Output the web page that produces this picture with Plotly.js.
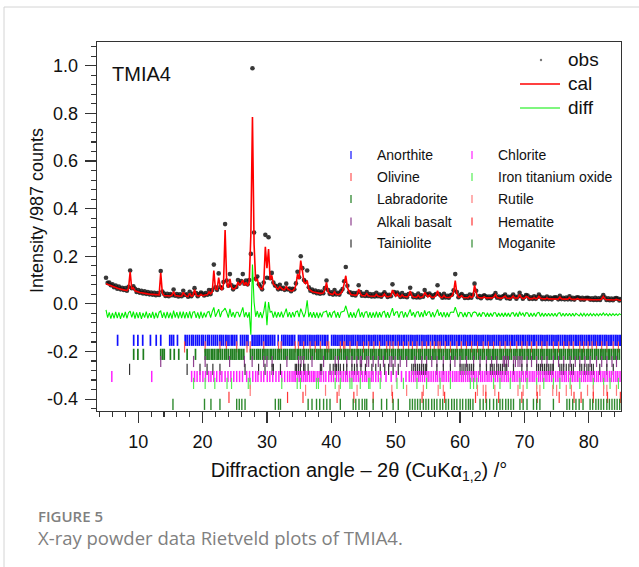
<!DOCTYPE html>
<html><head><meta charset="utf-8">
<script src="https://cdn.plot.ly/plotly-3.0.1.min.js"></script>
<style>html,body{margin:0;padding:0;background:#fff}#chart{width:639px;height:567px}</style>
</head><body><div id="chart"></div>
<script>
// ---- profile data: 2-theta grid start/step (deg) ----
const twoThetaStart = 5.0;
const twoThetaStep = 0.25;

const cal = [
/*5*/ .085,.082,.079,.076, .073,.071,.068,.066,
/*7*/ .064,.062,.060,.059, .057,.056,.065,.135,
/*9*/ .062,.068,.055,.052, .050,.048,.047,.045,
/*11*/ .044,.043,.042,.041, .040,.039,.038,.037,
/*13*/ .037,.038,.130,.045, .035,.034,.034,.033,
/*15*/ .033,.037,.052,.035, .033,.032,.032,.033,
/*17*/ .048,.038,.032,.031, .044,.033,.034,.060,
/*19*/ .038,.033,.033,.040, .035,.036,.037,.039,
/*21*/ .050,.042,.050,.140, .062,.060,.110,.072,
/*23*/ .058,.082,.310,.090, .068,.105,.070,.062,
/*25*/ .064,.072,.092,.078, .088,.100,.078,.090,
/*27*/ .075,.092,.290,.785, .250,.095,.105,.075,
/*29*/ .065,.062,.082,.240, .150,.230,.100,.120,
/*31*/ .082,.078,.066,.062, .072,.064,.060,.060,
/*33*/ .074,.062,.056,.054, .055,.062,.078,.125,
/*35*/ .105,.182,.140,.092, .085,.098,.062,.056,
/*37*/ .052,.050,.048,.046, .045,.044,.044,.046,
/*39*/ .058,.090,.050,.043, .041,.040,.050,.041,
/*41*/ .039,.040,.045,.056, .085,.118,.068,.050,
/*43*/ .040,.038,.037,.036, .039,.062,.043,.035,
/*45*/ .034,.034,.043,.034, .033,.032,.032,.032,
/*47*/ .040,.033,.031,.031, .032,.042,.032,.030,
/*49*/ .030,.033,.058,.044, .032,.042,.032,.030,
/*51*/ .038,.031,.029,.029, .034,.054,.035,.029,
/*53*/ .028,.028,.036,.028, .028,.031,.048,.036,
/*55*/ .029,.037,.029,.028, .029,.035,.055,.035,
/*57*/ .028,.027,.035,.028, .027,.027,.029,.033,
/*59*/ .050,.098,.044,.029, .029,.035,.027,.026,
/*61*/ .026,.026,.033,.027, .031,.078,.048,.029,
/*63*/ .026,.025,.025,.030, .025,.025,.024,.025,
/*65*/ .025,.029,.039,.027, .024,.024,.024,.027,
/*67*/ .033,.025,.023,.023, .025,.033,.024,.023,
/*69*/ .025,.039,.027,.023, .023,.031,.029,.022,
/*71*/ .022,.022,.026,.022, .023,.032,.024,.021,
/*73*/ .021,.021,.025,.021, .021,.020,.020,.023,
/*75*/ .021,.020,.028,.021, .020,.020,.021,.020,
/*77*/ .026,.020,.019,.019, .019,.023,.019,.019,
/*79*/ .019,.018,.018,.021, .018,.018,.017,.017,
/*81*/ .019,.017,.017,.017, .021,.031,.021,.017,
/*83*/ .017,.016,.016,.016, .016,.019,.016,.015,
/*85*/ .015
];

const obs = [
/*5*/ .110,.088,.090,.078, .082,.070,.077,.064,
/*7*/ .073,.061,.068,.058, .066,.055,.072,.140,
/*9*/ .066,.074,.063,.050, .058,.047,.055,.044,
/*11*/ .053,.042,.050,.040, .048,.038,.047,.036,
/*13*/ .045,.037,.138,.052, .043,.033,.042,.032,
/*15*/ .041,.036,.060,.034, .041,.031,.040,.032,
/*17*/ .055,.037,.040,.030, .051,.032,.042,.066,
/*19*/ .045,.032,.041,.048, .043,.035,.045,.038,
/*21*/ .058,.041,.058,.165, .070,.059,.128,.071,
/*23*/ .066,.092,.335,.098, .076,.125,.078,.061,
/*25*/ .072,.071,.100,.086, .096,.125,.085,.098,
/*27*/ .082,.100,.210,.990, .300,.105,.115,.082,
/*29*/ .073,.061,.090,.290, .110,.280,.108,.130,
/*31*/ .090,.077,.074,.061, .080,.063,.068,.059,
/*33*/ .085,.061,.064,.053, .063,.061,.086,.135,
/*35*/ .112,.200,.150,.100, .093,.140,.070,.055,
/*37*/ .060,.049,.056,.045, .053,.043,.052,.045,
/*39*/ .066,.098,.058,.042, .049,.039,.058,.040,
/*41*/ .047,.039,.053,.062, .095,.155,.076,.049,
/*43*/ .048,.037,.045,.035, .047,.078,.050,.034,
/*45*/ .042,.033,.050,.033, .041,.031,.040,.031,
/*47*/ .047,.032,.039,.030, .040,.049,.039,.029,
/*49*/ .038,.032,.082,.050, .040,.048,.039,.029,
/*51*/ .045,.030,.037,.028, .041,.068,.042,.028,
/*53*/ .036,.027,.043,.027, .036,.030,.058,.042,
/*55*/ .037,.043,.036,.027, .037,.041,.078,.041,
/*57*/ .035,.026,.042,.027, .034,.026,.036,.039,
/*59*/ .057,.125,.050,.028, .036,.041,.034,.025,
/*61*/ .033,.025,.039,.026, .038,.085,.055,.028,
/*63*/ .033,.024,.032,.036, .032,.024,.031,.024,
/*65*/ .032,.035,.045,.026, .031,.023,.030,.033,
/*67*/ .039,.024,.030,.022, .031,.039,.030,.022,
/*69*/ .031,.047,.033,.022, .029,.037,.035,.021,
/*71*/ .028,.021,.032,.021, .029,.039,.030,.020,
/*73*/ .027,.020,.031,.020, .027,.019,.026,.028,
/*75*/ .027,.019,.034,.020, .026,.019,.027,.019,
/*77*/ .032,.019,.025,.018, .025,.028,.025,.018,
/*79*/ .025,.017,.024,.026, .024,.017,.023,.016,
/*81*/ .025,.016,.023,.016, .027,.037,.027,.016,
/*83*/ .023,.015,.022,.015, .022,.024,.022,.014,
/*85*/ .020
];

const diff = [
/*5*/ -.025,-.058,-.036,-.062, -.038,-.061,-.034,-.060,
/*7*/ -.036,-.063,-.038,-.058, -.034,-.061,-.037,-.030,
/*9*/ -.057,-.033,-.062,-.036, -.060,-.035,-.063,-.038,
/*11*/ -.058,-.033,-.061,-.039, -.059,-.034,-.062,-.037,
/*13*/ -.060,-.035,-.030,-.059, -.036,-.061,-.034,-.060,
/*15*/ -.037,-.062,-.028,-.058, -.035,-.061,-.033,-.060,
/*17*/ -.033,-.061,-.035,-.060, -.032,-.061,-.035,-.033,
/*19*/ -.059,-.036,-.062,-.033, -.060,-.037,-.057,-.035,
/*21*/ -.032,-.058,-.033,-.015, -.054,-.035,-.022,-.056,
/*23*/ -.033,-.027,-.018,-.035, -.058,-.021,-.054,-.035,
/*25*/ -.058,-.035,-.035,-.056, -.035,-.015,-.056,-.035,
/*27*/ -.058,-.035,-.130,.165, .008,-.054,-.030,-.058,
/*29*/ -.035,-.060,-.033,.010, -.090,.008,-.035,-.031,
/*31*/ -.058,-.033,-.058,-.035, -.056,-.033,-.058,-.035,
/*33*/ -.020,-.056,-.035,-.058, -.035,-.056,-.033,-.030,
/*35*/ -.056,-.020,-.035,-.056, -.035,.015,-.056,-.035,
/*37*/ -.058,-.035,-.059,-.036, -.060,-.037,-.056,-.035,
/*39*/ -.033,-.030,-.057,-.035, -.058,-.036,-.031,-.058,
/*41*/ -.035,-.059,-.035,-.033, -.030,-.008,-.035,-.058,
/*43*/ -.035,-.058,-.036,-.059, -.035,-.020,-.056,-.035,
/*45*/ -.058,-.035,-.033,-.058, -.035,-.059,-.036,-.058,
/*47*/ -.033,-.058,-.035,-.057, -.035,-.031,-.058,-.035,
/*49*/ -.059,-.035,-.018,-.050, -.035,-.033,-.058,-.035,
/*51*/ -.033,-.058,-.035,-.056, -.035,-.023,-.050,-.035,
/*53*/ -.057,-.035,-.033,-.056, -.035,-.056,-.027,-.050,
/*55*/ -.035,-.033,-.056,-.035, -.056,-.035,-.023,-.050,
/*57*/ -.035,-.056,-.035,-.057, -.036,-.055,-.036,-.034,
/*59*/ -.036,-.014,-.036,-.055, -.036,-.037,-.055,-.036,
/*61*/ -.055,-.036,-.037,-.055, -.037,-.034,-.037,-.053,
/*63*/ -.037,-.054,-.037,-.038, -.054,-.037,-.054,-.038,
/*65*/ -.053,-.037,-.037,-.054, -.038,-.053,-.038,-.054,
/*67*/ -.037,-.053,-.038,-.054, -.038,-.037,-.053,-.037,
/*69*/ -.054,-.033,-.049,-.037, -.053,-.037,-.038,-.054,
/*71*/ -.038,-.053,-.038,-.053, -.038,-.036,-.053,-.038,
/*73*/ -.053,-.039,-.052,-.039, -.052,-.039,-.052,-.039,
/*75*/ -.053,-.039,-.037,-.052, -.039,-.052,-.039,-.051,
/*77*/ -.039,-.052,-.040,-.052, -.040,-.044,-.051,-.040,
/*79*/ -.051,-.040,-.051,-.041, -.050,-.040,-.050,-.041,
/*81*/ -.050,-.041,-.050,-.041, -.048,-.038,-.048,-.041,
/*83*/ -.050,-.041,-.049,-.041, -.049,-.042,-.049,-.041,
/*85*/ -.046
];

// ---- reflection positions (2-theta, deg) per phase ----
const anorthite = [6.8,9.3,9.95,10.7,11.9,12.8,13.5,14.9,15.2,15.5,16.1,17.3,17.6,17.95,18.3,18.55,18.9,19.2,19.5,19.85,20.1,20.45,20.8,21.05,21.4,21.7,22.0,22.3,22.65,22.9,23.2,23.55,23.8,24.1,24.45,24.7,25.0,25.3,25.9,26.2,26.5,26.8,27.05,27.7,28.0,28.3,28.6,28.85,29.15,29.45,29.75,30.0,30.3,30.6,30.9,31.2,31.75,32.3,32.6,32.85,33.15,33.45,33.75,34.0,34.3,34.9,35.15,35.45,35.75,36.0,36.3,36.6,36.85,37.15,37.45,37.75,38.0,38.3,38.6,38.9,39.15,39.45,40.05,40.35,40.6,40.9,41.2,41.5,41.75,42.05,42.35,42.6,42.9,43.2,43.45,43.75,44.05,44.3,44.6,44.9,45.15,45.45,45.75,46.0,46.3,46.6,46.85,47.15,47.45,47.7,48.0,48.3,48.6,48.85,49.15,49.45,49.7,50.0,50.3,50.55,50.85,51.15,51.4,51.7,52.0,52.3,52.55,52.85,53.15,53.4,53.7,54.0,54.25,54.55,54.85,55.1,55.4,55.7,56.0,56.25,56.55,56.85,57.1,57.4,57.7,57.95,58.25,58.55,58.8,59.1,59.4,59.7,59.95,60.25,60.55,60.8,61.1,61.4,61.65,61.95,62.25,62.5,62.8,63.1,63.4,63.65,63.95,64.25,64.5,64.8,65.1,65.35,65.65,65.95,66.2,66.5,66.8,67.1,67.35,67.65,67.95,68.2,68.5,68.8,69.05,69.35,69.65,69.9,70.2,70.5,70.75,71.05,71.35,71.6,71.9,72.2,72.5,72.75,73.05,73.35,73.6,73.9,74.2,74.45,74.75,75.05,75.3,75.6,75.9,76.2,76.45,76.75,77.05,77.3,77.6,77.9,78.15,78.45,78.75,79.0,79.3,79.6,79.9,80.15,80.45,80.75,81.0,81.3,81.6,81.85,82.15,82.45,82.7,83.0,83.3,83.55,83.85,84.15,84.4,84.7,84.95];
const olivine = [17.2,20.4,22.7,23.7,25.3,26.9,27.4,29.5,31.8,32.2,34.4,34.9,35.7,36.7,37.5,38.3,39.3,39.6,41.4,41.9,42.1,42.9,44.0,45.0,45.8,46.6,47.5,48.6,49.1,49.6,50.4,51.2,52.0,52.6,53.3,54.1,54.8,55.4,56.0,56.6,56.9,57.7,58.5,59.5,60.2,61.0,61.8,62.7,63.6,64.4,65.2,66.2,67.0,67.8,68.8,69.6,70.4,71.1,71.9,72.7,73.5,74.5,75.3,76.1,76.9,77.6,78.6,79.2,79.9,80.5,81.2,82.0,82.8,83.8,84.6];
const labradorite = [9.3,9.95,10.8,13.5,13.8,14.05,15.0,15.6,16.3,17.6,18.9,20.4,20.7,21.0,21.35,21.6,21.9,22.25,22.5,22.8,23.1,23.45,23.7,24.0,24.35,24.6,24.9,25.2,25.55,25.8,26.1,26.4,27.45,27.75,28.05,28.4,28.65,28.95,29.3,29.55,29.85,30.15,30.5,30.75,31.05,31.35,31.7,31.95,32.25,32.6,32.85,33.15,33.5,33.75,34.05,34.35,34.7,34.95,35.25,35.6,35.85,36.15,36.45,36.8,37.05,37.35,37.7,37.95,38.25,38.55,38.9,39.15,39.45,39.8,40.05,40.35,40.65,41.0,41.25,41.55,41.9,42.15,42.45,42.75,43.1,43.35,43.65,44.0,44.25,44.55,44.85,45.2,45.45,45.75,46.1,46.35,46.65,46.95,47.3,47.55,47.85,48.2,48.45,48.75,49.05,49.4,49.65,49.95,50.3,50.55,50.85,51.15,51.5,51.75,52.05,52.4,52.65,52.95,53.25,53.6,53.85,54.15,54.5,54.75,55.05,55.35,55.7,55.95,56.25,56.6,56.85,57.15,57.45,57.8,58.05,58.35,58.7,58.95,59.25,59.55,59.9,60.15,60.45,60.8,61.05,61.35,61.65,62.0,62.25,62.55,62.9,63.15,63.45,63.75,64.1,64.35,64.65,65.0,65.25,65.55,65.85,66.2,66.45,66.75,67.1,67.35,67.65,67.95,68.3,68.55,68.85,69.2,69.45,69.75,70.05,70.4,70.65,70.95,71.3,71.55,71.85,72.15,72.5,72.75,73.05,73.4,73.65,73.95,74.25,74.6,74.85,75.15,75.5,75.75,76.05,76.35,76.7,76.95,77.25,77.6,77.85,78.15,78.45,78.8,79.05,79.35,79.7,79.95,80.25,80.55,80.9,81.15,81.45,81.8,82.05,82.35,82.65,83.0,83.25,83.55,83.9,84.15,84.45,84.75];
const alkaliBasalt = [13.5,18.6,20.4,24.2,26.5,27.7,29.5,30.0,30.8,33.1,34.9,35.3,35.7,37.0,38.8,40.6,41.1,42.4,43.2,43.96,44.5,44.7,45.5,45.8,46.5,47.3,48.1,49.1,49.4,49.9,50.7,51.7,53.0,54.05,54.8,55.6,56.4,57.4,58.5,59.2,60.0,61.0,62.1,63.1,64.1,64.9,65.7,66.7,66.9,67.2,67.5,68.3,68.6,69.0,69.3,69.6,70.4,71.1,71.9,72.7,73.5,74.5,75.3,76.1,77.1,77.9,78.6,79.4,80.2,81.2,82.0,82.8,83.6,84.3];
const tainiolite = [8.66,17.6,19.6,20.7,21.6,22.7,26.6,28.7,29.7,30.8,31.0,32.1,34.4,34.6,34.9,35.2,35.7,35.9,36.4,38.3,38.5,39.8,40.3,40.6,40.8,41.1,41.4,41.9,42.4,43.2,43.6,44.0,44.6,45.3,46.3,46.9,47.6,48.3,48.9,49.6,50.4,52.5,52.8,53.1,53.4,53.7,54.0,54.3,54.6,54.8,56.4,57.4,58.5,60.0,60.3,60.6,60.9,61.2,61.5,61.8,62.1,63.1,64.1,64.7,65.0,65.3,65.7,66.0,66.3,66.6,67.0,67.25,68.3,69.6,70.4,71.9,72.2,72.5,72.8,73.1,73.4,73.7,74.0,74.3,74.5,75.5,75.8,76.1,76.5,76.9,77.3,77.6,78.6,78.9,79.3,79.7,80.0,80.4,80.7,81.7,82.8,83.8];
const chlorite = [5.9,12.1,18.3,18.75,19.15,19.6,20.05,20.45,20.95,21.3,21.75,22.2,22.65,23.0,23.5,23.95,24.4,24.85,25.3,25.75,26.2,26.85,27.3,27.8,28.25,28.6,29.1,29.5,30.05,30.45,30.9,31.4,31.85,32.3,32.75,33.2,33.55,33.9,34.2,34.45,34.8,35.1,35.4,35.7,36.0,36.25,36.6,36.9,37.2,37.45,37.8,38.1,38.4,38.8,39.15,39.6,40.0,40.35,40.8,41.15,41.5,41.85,42.2,42.5,42.85,43.2,43.5,43.85,44.2,44.5,44.85,45.2,45.5,45.85,46.2,46.5,46.9,47.3,47.7,48.5,49.3,50.1,50.9,51.6,52.1,52.45,52.8,53.15,53.5,53.8,54.15,54.5,54.85,55.15,55.5,55.85,56.2,56.5,56.85,57.2,57.5,57.85,58.2,58.5,58.85,59.2,59.5,59.85,60.2,60.5,60.85,61.2,61.5,61.85,62.2,62.5,62.85,63.2,63.5,63.85,64.2,64.5,64.85,65.2,65.5,65.85,66.2,66.5,66.85,67.2,67.5,67.85,68.2,68.5,68.85,69.2,69.5,69.85,70.2,70.5,70.85,71.2,71.5,71.85,72.2,72.5,72.85,73.2,73.5,73.85,74.2,74.5,74.85,75.2,75.5,75.85,76.2,76.5,76.85,77.2,77.5,77.85,78.2,78.5,78.85,79.2,79.5,79.85,80.2,80.5,80.85,81.2,81.5,81.85,82.2,82.5,82.85,83.2,83.5,83.85,84.2,84.5,84.85];
const ironTitaniumOxide = [18.6,20.4,21.9,23.8,24.5,27.1,27.4,32.3,34.7,35.2,37.7,38.0,40.6,41.4,42.9,43.2,44.5,45.8,46.0,47.6,50.2,51.2,53.3,54.8,56.9,58.5,61.6,62.1,62.6,65.2,66.2,67.8,69.3,70.4,71.9,73.0,74.5,75.5,77.1,78.6,80.7,82.3,83.3,84.6];
const rutile = [27.4,36.0,39.1,41.2,44.0,49.4,51.7,54.3,56.6,57.4,62.7,63.6,64.0,65.4,69.0,69.8,71.9,72.4,74.4,75.0,76.5,77.3,79.8,80.7,82.3,82.8,84.3];
const hematite = [24.1,33.2,35.6,40.9,43.5,46.5,49.5,54.1,57.6,62.4,64.0,66.0,69.6,72.0,75.4,77.7,78.8,80.7,82.9,84.9];
const moganite = [15.4,20.3,21.3,22.7,25.3,25.7,26.1,26.6,31.3,31.8,32.1,36.4,37.0,37.7,38.2,38.8,39.3,39.8,41.4,43.4,43.8,44.3,44.8,45.2,45.5,46.5,47.8,48.6,49.6,50.4,52.2,52.6,53.0,53.4,53.8,54.3,54.7,55.1,55.6,56.0,56.4,56.9,57.3,57.8,58.2,58.7,59.1,59.5,60.0,60.4,60.9,61.3,61.6,62.0,63.1,63.6,64.1,64.6,65.2,65.7,66.2,66.6,67.1,67.5,67.9,68.3,69.3,69.8,70.4,71.4,71.9,72.4,74.5,76.6,77.0,77.5,78.0,78.5,79.1,80.2,80.6,81.1,81.5,81.9,82.3,82.8,83.2,83.6,84.0,84.4,84.8];

const phaseNames = ['Anorthite','Olivine','Labradorite','Alkali basalt','Tainiolite','Chlorite','Iron titanium oxide','Rutile','Hematite','Moganite'];
const phaseTicks = [anorthite, olivine, labradorite, alkaliBasalt, tainiolite, chlorite, ironTitaniumOxide, rutile, hematite, moganite];

const xTickVals = [10,20,30,40,50,60,70,80];
const yTickVals = [-0.4,-0.2,0,0.2,0.4,0.6,0.8,1.0];
const yTickText = ['-0.4','-0.2','0.0','0.2','0.4','0.6','0.8','1.0'];

// ---- styles ----
const phaseColors = ['#1010ff','#ff5555','#1e7d1e','#8e3f8e','#333333','#ff22ff','#55ee55','#ff7b7b','#ff3535','#2f8a2f'];
const phaseWidths = [1.7,1.2,1.7,1.2,1.2,1.5,1.2,1.2,1.2,1.4];
const rowY = [-0.153,-0.181,-0.212,-0.242,-0.275,-0.305,-0.334,-0.363,-0.393,-0.422];

const twoTheta = obs.map((_, i) => +(twoThetaStart + i * twoThetaStep).toFixed(2));
const FONT = 'Liberation Sans, Arial, sans-serif';

const traces = [
  {x: twoTheta, y: obs, type: 'scatter', mode: 'markers', name: 'obs',
   marker: {size: 4.6, color: '#151515', opacity: 0.85}, hoverinfo: 'skip'},
  {x: twoTheta, y: cal, type: 'scatter', mode: 'lines', name: 'cal',
   line: {color: '#ff0000', width: 1.6}, hoverinfo: 'skip'},
  {x: twoTheta, y: diff, type: 'scatter', mode: 'lines', name: 'diff',
   line: {color: '#00ee00', width: 1.1}, hoverinfo: 'skip'}
];
phaseTicks.forEach((pos, k) => {
  traces.push({
    x: pos, y: pos.map(() => rowY[k]), type: 'scatter', mode: 'markers', name: phaseNames[k],
    marker: {symbol: 'line-ns', size: 8, color: phaseColors[k],
             line: {color: phaseColors[k], width: phaseWidths[k]}},
    hoverinfo: 'skip'
  });
});

// plot area: l=97, t=42, w=524, h=369
const PX = px => (px - 97) / 524;
const PY = py => (411 - py) / 369;

const annotations = [
  {text: 'Intensity /987 counts', textangle: -90, x: PX(37), y: PY(211), xref: 'paper', yref: 'paper', xanchor: 'center', yanchor: 'middle', showarrow: false, font: {family: FONT, size: 18, color: '#111'}},
  {text: 'TMIA4', x: PX(110), y: PY(74), xref: 'paper', yref: 'paper', xanchor: 'left', yanchor: 'middle', showarrow: false, font: {family: FONT, size: 20, color: '#111'}},
  {text: 'obs', x: PX(566), y: PY(59), xref: 'paper', yref: 'paper', xanchor: 'left', yanchor: 'middle', showarrow: false, font: {family: FONT, size: 19, color: '#111'}},
  {text: 'cal', x: PX(566), y: PY(84), xref: 'paper', yref: 'paper', xanchor: 'left', yanchor: 'middle', showarrow: false, font: {family: FONT, size: 19, color: '#111'}},
  {text: 'diff', x: PX(566), y: PY(108), xref: 'paper', yref: 'paper', xanchor: 'left', yanchor: 'middle', showarrow: false, font: {family: FONT, size: 19, color: '#111'}},
  {text: 'FIGURE 5', x: PX(36), y: PY(516), xref: 'paper', yref: 'paper', xanchor: 'left', yanchor: 'middle', showarrow: false, font: {family: 'Open Sans, sans-serif', size: 15, color: '#808080', weight: 600}},
  {text: 'X-ray powder data Rietveld plots of TMIA4.', x: PX(36), y: PY(537), xref: 'paper', yref: 'paper', xanchor: 'left', yanchor: 'middle', showarrow: false, font: {family: 'Open Sans, sans-serif', size: 18.5, color: '#808080'}}
];
const shapes = [
  {type: 'line', xref: 'paper', yref: 'paper', x0: PX(4), x1: PX(4), y0: PY(7), y1: PY(567), line: {color: '#d4d4d4', width: 1}},
  {type: 'line', xref: 'paper', yref: 'paper', x0: PX(4), x1: PX(639), y0: PY(7), y1: PY(7), line: {color: '#d4d4d4', width: 1}},
  {type: 'line', xref: 'paper', yref: 'paper', x0: PX(520), x1: PX(560), y0: PY(84), y1: PY(84), line: {color: '#ff0000', width: 1.5}},
  {type: 'line', xref: 'paper', yref: 'paper', x0: PX(520), x1: PX(560), y0: PY(108), y1: PY(108), line: {color: '#00ee00', width: 1.2}},
  {type: 'circle', xref: 'paper', yref: 'paper', x0: PX(539.8), x1: PX(542.2), y0: PY(61.2), y1: PY(58.8), fillcolor: '#777', line: {width: 0}}
];
const legRowY = [155, 177, 199, 221.5, 243.5];
phaseNames.forEach((nm, k) => {
  const col = k < 5 ? 0 : 1;
  const r = k % 5;
  const mx = col === 0 ? 351 : 472;
  const tx = col === 0 ? 375 : 496;
  shapes.push({type: 'line', xref: 'paper', yref: 'paper', x0: PX(mx), x1: PX(mx), y0: PY(legRowY[r] - 4), y1: PY(legRowY[r] + 4), line: {color: phaseColors[k], width: 1.2}});
  annotations.push({text: nm, x: PX(tx), y: PY(legRowY[r]), xref: 'paper', yref: 'paper', xanchor: 'left', yanchor: 'middle', showarrow: false, font: {family: FONT, size: 14, color: '#111'}});
});

const axisCommon = {
  showgrid: false, zeroline: false, showline: true, mirror: true, linecolor: '#333', linewidth: 1.3,
  ticks: 'outside', ticklen: 11, tickwidth: 1.2, tickcolor: '#333',
  tickfont: {family: FONT, size: 18, color: '#111'}
};

const layout = {
  width: 639, height: 567,
  margin: {l: 97, r: 18, t: 42, b: 156},
  paper_bgcolor: '#fff', plot_bgcolor: '#fff',
  showlegend: false,
  font: {family: FONT},
  xaxis: Object.assign({}, axisCommon, {
    range: [3.6, 85], tickvals: xTickVals, ticklabelstandoff: 3,
    minor: {dtick: 2, tick0: 0, ticks: 'outside', ticklen: 5, tickwidth: 1.1, tickcolor: '#333'},
    title: {text: 'Diffraction angle – 2θ (CuKα<sub>1,2</sub>) /°', font: {family: FONT, size: 20, color: '#111'}, standoff: 12}
  }),
  yaxis: Object.assign({}, axisCommon, {
    range: [-0.45, 1.1], tickvals: yTickVals, ticktext: yTickText, ticklabelstandoff: 3,
    minor: {dtick: 0.04, tick0: 0, ticks: 'outside', ticklen: 5, tickwidth: 1.1, tickcolor: '#333'}
  }),
  annotations: annotations,
  shapes: shapes
};

Plotly.newPlot('chart', traces, layout, {displayModeBar: false, staticPlot: true});
</script>
</body></html>
